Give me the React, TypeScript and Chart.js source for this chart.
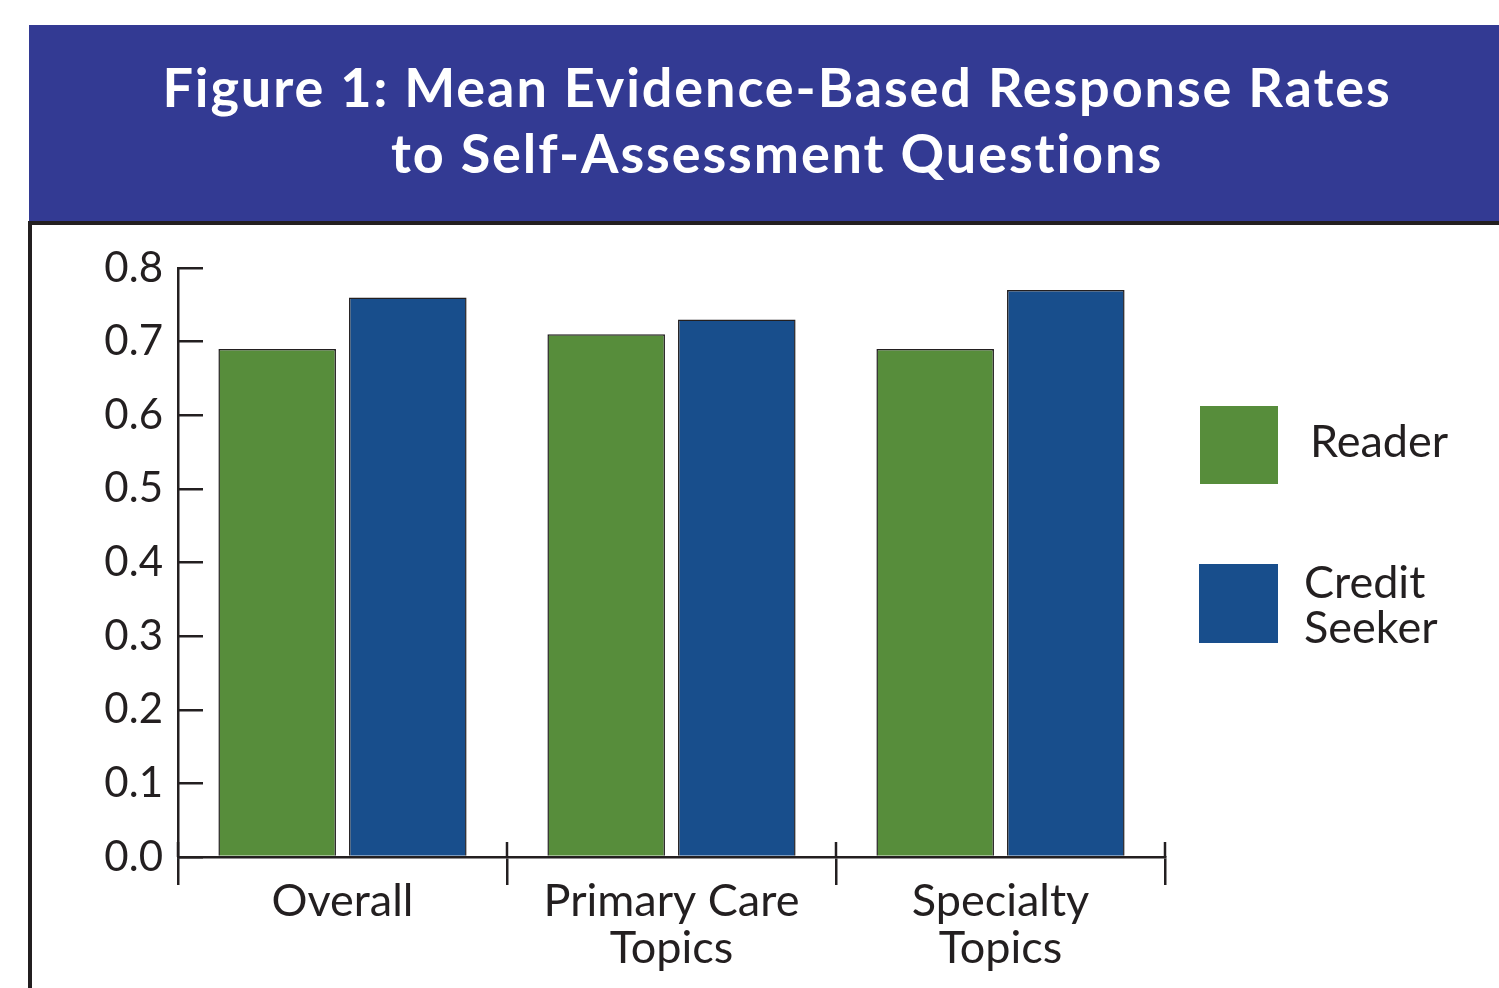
import React, { useEffect, useRef } from "react";
import { Chart, registerables } from "chart.js";

Chart.register(...registerables);

// ---- data ----
const categories: (string | string[])[] = ["Overall", ["Primary Care", "Topics"], ["Specialty", "Topics"]];
const seriesNames = ["Reader", "Credit Seeker"];
const readerValues = [0.69, 0.71, 0.69];
const creditSeekerValues = [0.76, 0.73, 0.77];
const yMin = 0;
const yMax = 0.8;
const yStep = 0.1;
const titleLines = ["Figure 1: Mean Evidence-Based Response Rates", "to Self-Assessment Questions"];
const legendLines = [["Reader"], ["Credit", "Seeker"]];

// ---- styles ----
const INK = "#231f20";
const GREEN = "#578d3b";
const BLUE = "#184e8c";
const BANNER = "#333a93";
const FONT = "Lato, 'Open Sans', sans-serif";

const separatorPlugin = {
  id: "separatorMarks",
  afterDraw(chart: any) {
    const xs = chart.scales.x;
    const ctx = chart.ctx;
    const bottom = chart.chartArea.bottom;
    ctx.save();
    ctx.strokeStyle = INK;
    ctx.lineWidth = 2.5;
    for (let i = 0; i <= xs.ticks.length; i++) {
      const px = Math.round(xs.getPixelForValue(i - 0.5));
      ctx.beginPath();
      ctx.moveTo(px, bottom - 15);
      ctx.lineTo(px, bottom);
      ctx.stroke();
    }
    ctx.restore();
  },
};

export default function App() {
  const canvasRef = useRef<HTMLCanvasElement | null>(null);

  useEffect(() => {
    if (!canvasRef.current) return;
    const chart = new Chart(canvasRef.current, {
      type: "bar",
      data: {
        labels: categories as any,
        datasets: [
          {
            label: seriesNames[0],
            data: readerValues,
            backgroundColor: GREEN,
            borderColor: INK,
            borderWidth: 1.5,
            categoryPercentage: 0.794,
            barPercentage: 0.9,
          },
          {
            label: seriesNames[1],
            data: creditSeekerValues,
            backgroundColor: BLUE,
            borderColor: INK,
            borderWidth: 1.5,
            categoryPercentage: 0.794,
            barPercentage: 0.9,
          },
        ],
      },
      options: {
        responsive: false,
        animation: false,
        layout: { padding: { top: 268, right: 334, bottom: 0, left: 0 } },
        plugins: {
          legend: { display: false },
          title: { display: false },
          tooltip: { enabled: false },
        },
        scales: {
          x: {
            offset: true,
            grid: {
              offset: true,
              drawOnChartArea: false,
              drawTicks: true,
              tickLength: 28,
              color: INK,
              lineWidth: 2.5,
            },
            border: { display: true, color: INK, width: 2.5 },
            ticks: {
              color: INK,
              padding: -7,
              font: { family: FONT, size: 45, lineHeight: 1.05 },
              maxRotation: 0,
              autoSkip: false,
            },
            afterFit: (s: any) => {
              s.height = 131;
            },
          },
          y: {
            min: yMin,
            max: yMax,
            grid: {
              drawOnChartArea: false,
              drawTicks: true,
              tickLength: -25,
              color: INK,
              lineWidth: 2.5,
            },
            border: { display: true, color: INK, width: 2.5 },
            ticks: {
              stepSize: yStep,
              autoSkip: false,
              color: INK,
              padding: 40,
              font: { family: FONT, size: 42 },
              callback: (v: any) => Number(v).toFixed(1),
            },
            afterFit: (s: any) => {
              s.width = 178;
            },
          },
        },
      },
      plugins: [separatorPlugin],
    });
    return () => chart.destroy();
  }, []);

  const legendColors = [GREEN, BLUE];
  const legendBoxes = [
    { left: 1200, top: 406, size: 78, textLeft: 1310, textTop: 418 },
    { left: 1199, top: 564, size: 79, textLeft: 1304, textTop: 559 },
  ];

  return (
    <div
      style={{
        position: "absolute",
        left: 0,
        top: 0,
        width: 1499,
        height: 988,
        overflow: "hidden",
        background: "#ffffff",
        fontFamily: FONT,
      }}
    >
      <div style={{ position: "absolute", left: 29, top: 25, width: 1470, height: 196, background: BANNER }} />
      <div
        style={{
          position: "absolute",
          left: 53,
          top: 54,
          width: 1448,
          textAlign: "center",
          color: "#ffffff",
          fontWeight: 700,
          fontSize: 54,
          lineHeight: "66px",
          letterSpacing: "1.9px",
          whiteSpace: "nowrap",
        }}
      >
        {titleLines.map((t, i) => (
          <div key={i}>{t}</div>
        ))}
      </div>
      <div style={{ position: "absolute", left: 28, top: 221, width: 1471, height: 4, background: INK }} />
      <div style={{ position: "absolute", left: 28, top: 221, width: 4, height: 767, background: INK }} />
      <canvas
        ref={canvasRef}
        width={1499}
        height={988}
        style={{ position: "absolute", left: 0, top: 0, width: 1499, height: 988 }}
      />
      {legendBoxes.map((b, i) => (
        <React.Fragment key={i}>
          <div
            style={{
              position: "absolute",
              left: b.left,
              top: b.top,
              width: b.size,
              height: b.size,
              background: legendColors[i],
            }}
          />
          <div
            style={{
              position: "absolute",
              left: b.textLeft,
              top: b.textTop,
              color: INK,
              fontSize: 45,
              lineHeight: "45px",
              whiteSpace: "nowrap",
            }}
          >
            {legendLines[i].map((l, j) => (
              <div key={j}>{l}</div>
            ))}
          </div>
        </React.Fragment>
      ))}
    </div>
  );
}
